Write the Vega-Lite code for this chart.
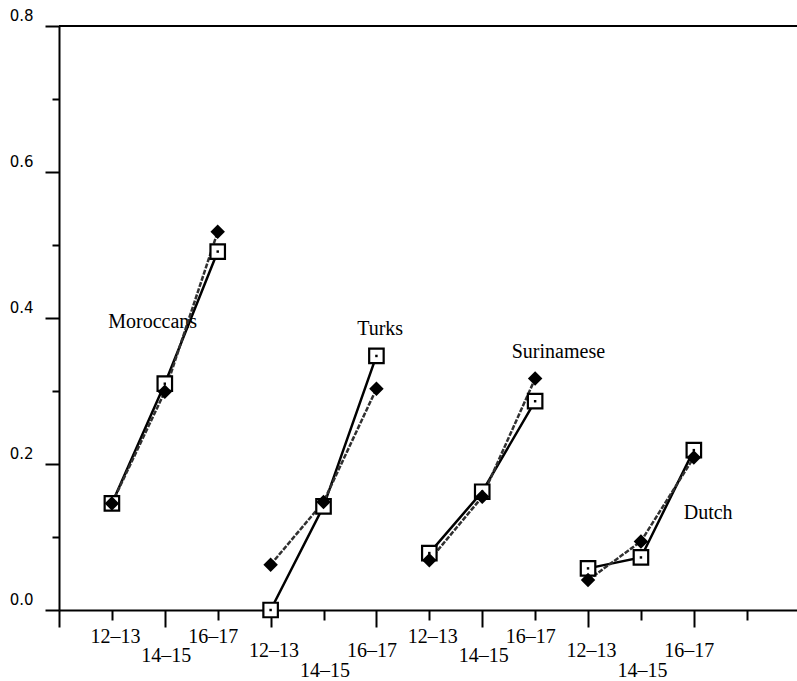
{
  "$schema": "https://vega.github.io/schema/vega-lite/v6.json",
  "width": 738,
  "height": 584,
  "autosize": {"type": "none"},
  "padding": {"left": 59, "top": 26, "right": 0, "bottom": 71},
  "background": "white",
  "config": {
    "view": {"stroke": null},
    "axisX": {"labelFont": "Liberation Serif", "labelFontSize": 20, "labelColor": "black"},
    "axisY": {"labelFont": "DejaVu Sans", "labelFontSize": 15, "labelColor": "black"}
  },
  "datasets": {
    "points": [
      {"group": "Moroccans", "age": "12–13", "slot": 1, "series": "Series A", "value": 0.146},
      {"group": "Moroccans", "age": "14–15", "slot": 2, "series": "Series A", "value": 0.299},
      {"group": "Moroccans", "age": "16–17", "slot": 3, "series": "Series A", "value": 0.518},
      {"group": "Turks", "age": "12–13", "slot": 4, "series": "Series A", "value": 0.062},
      {"group": "Turks", "age": "14–15", "slot": 5, "series": "Series A", "value": 0.148},
      {"group": "Turks", "age": "16–17", "slot": 6, "series": "Series A", "value": 0.303},
      {"group": "Surinamese", "age": "12–13", "slot": 7, "series": "Series A", "value": 0.068},
      {"group": "Surinamese", "age": "14–15", "slot": 8, "series": "Series A", "value": 0.155},
      {"group": "Surinamese", "age": "16–17", "slot": 9, "series": "Series A", "value": 0.317},
      {"group": "Dutch", "age": "12–13", "slot": 10, "series": "Series A", "value": 0.041},
      {"group": "Dutch", "age": "14–15", "slot": 11, "series": "Series A", "value": 0.094},
      {"group": "Dutch", "age": "16–17", "slot": 12, "series": "Series A", "value": 0.209},
      {"group": "Moroccans", "age": "12–13", "slot": 1, "series": "Series B", "value": 0.146},
      {"group": "Moroccans", "age": "14–15", "slot": 2, "series": "Series B", "value": 0.31},
      {"group": "Moroccans", "age": "16–17", "slot": 3, "series": "Series B", "value": 0.491},
      {"group": "Turks", "age": "12–13", "slot": 4, "series": "Series B", "value": 0.0},
      {"group": "Turks", "age": "14–15", "slot": 5, "series": "Series B", "value": 0.142},
      {"group": "Turks", "age": "16–17", "slot": 6, "series": "Series B", "value": 0.348},
      {"group": "Surinamese", "age": "12–13", "slot": 7, "series": "Series B", "value": 0.078},
      {"group": "Surinamese", "age": "14–15", "slot": 8, "series": "Series B", "value": 0.162},
      {"group": "Surinamese", "age": "16–17", "slot": 9, "series": "Series B", "value": 0.286},
      {"group": "Dutch", "age": "12–13", "slot": 10, "series": "Series B", "value": 0.057},
      {"group": "Dutch", "age": "14–15", "slot": 11, "series": "Series B", "value": 0.072},
      {"group": "Dutch", "age": "16–17", "slot": 12, "series": "Series B", "value": 0.219}
    ],
    "labels": [
      {"group": "Moroccans", "lx": 1.77, "ly": 0.386},
      {"group": "Turks", "lx": 6.07, "ly": 0.377},
      {"group": "Surinamese", "lx": 9.44, "ly": 0.345},
      {"group": "Dutch", "lx": 12.27, "ly": 0.125}
    ]
  },
  "layer": [
    {
      "data": {"name": "labels"},
      "mark": {"type": "text", "font": "Liberation Serif", "fontSize": 20, "align": "center", "baseline": "alphabetic", "color": "black"},
      "encoding": {
        "x": {"field": "lx", "type": "quantitative"},
        "y": {"field": "ly", "type": "quantitative"},
        "text": {"field": "group"}
      }
    },
    {
      "data": {"name": "points"},
      "transform": [{"filter": "datum.series == 'Series B'"}],
      "mark": {"type": "line", "color": "black", "strokeWidth": 2.5},
      "encoding": {
        "x": {
          "field": "slot", "type": "quantitative",
          "scale": {"domain": [0, 13.95], "nice": false, "zero": false},
          "axis": {
            "title": null, "grid": false,
            "values": [0, 1, 2, 3, 4, 5, 6, 7, 8, 9, 10, 11, 12, 13],
            "labelExpr": "datum.value == 0 || datum.value == 13 ? '' : (datum.value % 3 == 1 ? '12–13' : (datum.value % 3 == 2 ? '14–15' : '16–17'))",
            "domainColor": "black", "domainWidth": 2,
            "tickColor": "black", "tickWidth": 2,
            "tickSize": {"condition": {"test": "datum.value % 2 == 0", "value": 17}, "value": 10},
            "labelFont": "Liberation Serif", "labelFontSize": 20, "labelColor": "black",
            "labelBaseline": "middle", "labelFlush": false, "labelOverlap": false, "labelBound": false,
            "labelPadding": {"condition": [
              {"test": "datum.value == 2 || datum.value == 8", "value": 28},
              {"test": "datum.value == 5 || datum.value == 11", "value": 50},
              {"test": "datum.value == 4 || datum.value == 6 || datum.value == 10 || datum.value == 12", "value": 23}
            ], "value": 16},
            "labelOffset": {"condition": [
              {"test": "datum.value % 3 == 1", "value": 3},
              {"test": "datum.value % 3 == 0", "value": -5}
            ], "value": 1}
          }
        },
        "y": {
          "field": "value", "type": "quantitative",
          "scale": {"domain": [0, 0.8], "nice": false},
          "axis": {
            "title": null, "grid": false,
            "values": [0, 0.1, 0.2, 0.3, 0.4, 0.5, 0.6, 0.7, 0.8],
            "labelExpr": "round(datum.value * 10) % 2 == 0 ? format(datum.value, '.1f') : ''",
            "domainColor": "black", "domainWidth": 2,
            "tickColor": "black", "tickWidth": 2,
            "tickSize": {"condition": {"test": "round(datum.value * 10) % 2 == 1", "value": 7}, "value": 14},
            "labelFont": "DejaVu Sans", "labelFontSize": 15, "labelColor": "black",
            "labelPadding": 12, "labelOffset": -11,
            "labelFlush": false, "labelOverlap": false, "labelBound": false
          }
        },
        "detail": {"field": "group"},
        "order": {"field": "slot"}
      }
    },
    {
      "data": {"name": "points"},
      "transform": [{"filter": "datum.series == 'Series A'"}],
      "mark": {"type": "line", "color": "#303030", "strokeWidth": 2.5, "strokeDash": [5, 1.5]},
      "encoding": {
        "x": {"field": "slot", "type": "quantitative"},
        "y": {"field": "value", "type": "quantitative"},
        "detail": {"field": "group"},
        "order": {"field": "slot"}
      }
    },
    {
      "data": {"name": "points"},
      "mark": {"type": "rule", "color": "black", "strokeWidth": 2},
      "encoding": {
        "y": {"datum": 0.8, "type": "quantitative"}
      }
    },
    {
      "data": {"name": "points"},
      "transform": [{"filter": "datum.series == 'Series B'"}],
      "mark": {"type": "point", "shape": "square", "size": 210, "filled": true, "fill": "white", "stroke": "black", "strokeWidth": 2.2, "opacity": 1},
      "encoding": {
        "x": {"field": "slot", "type": "quantitative"},
        "y": {"field": "value", "type": "quantitative"}
      }
    },
    {
      "data": {"name": "points"},
      "transform": [{"filter": "datum.series == 'Series B'"}],
      "mark": {"type": "point", "shape": "square", "size": 6, "filled": true, "color": "black", "opacity": 1},
      "encoding": {
        "x": {"field": "slot", "type": "quantitative"},
        "y": {"field": "value", "type": "quantitative"}
      }
    },
    {
      "data": {"name": "points"},
      "transform": [{"filter": "datum.series == 'Series A'"}],
      "mark": {"type": "point", "shape": "diamond", "size": 210, "filled": true, "color": "black", "opacity": 1},
      "encoding": {
        "x": {"field": "slot", "type": "quantitative"},
        "y": {"field": "value", "type": "quantitative"}
      }
    }
  ]
}
